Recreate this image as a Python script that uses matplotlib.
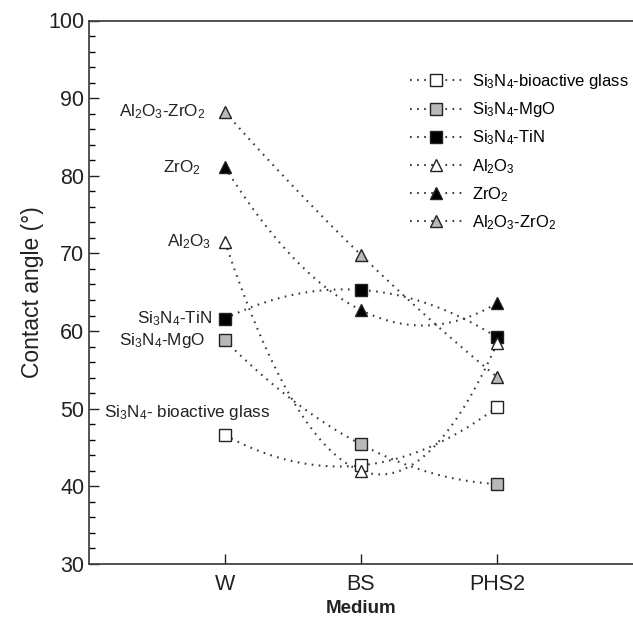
import matplotlib
matplotlib.use("Agg")
import matplotlib.pyplot as plt
import numpy as np
from matplotlib.ticker import MultipleLocator

plt.rcParams['font.family'] = ['Liberation Sans', 'DejaVu Sans']
plt.rcParams['mathtext.fontset'] = 'custom'
plt.rcParams['mathtext.rm'] = 'Liberation Sans'
plt.rcParams['mathtext.it'] = 'Liberation Sans'
plt.rcParams['mathtext.bf'] = 'Liberation Sans:bold'

media = ['W', 'BS', 'PHS2']

names = [r'Si$_3$N$_4$-bioactive glass', r'Si$_3$N$_4$-MgO', r'Si$_3$N$_4$-TiN',
         r'Al$_2$O$_3$', r'ZrO$_2$', r'Al$_2$O$_3$-ZrO$_2$']
side_labels = [r'Si$_3$N$_4$- bioactive glass', r'Si$_3$N$_4$-MgO', r'Si$_3$N$_4$-TiN',
               r'Al$_2$O$_3$', r'ZrO$_2$', r'Al$_2$O$_3$-ZrO$_2$']

bioactive = [46.6, 42.7, 50.2]
mgo = [58.8, 45.4, 40.3]
tin = [61.6, 65.3, 59.2]
al2o3 = [71.5, 42.0, 58.4]
zro2 = [81.1, 62.7, 63.6]
al2o3_zro2 = [88.2, 69.8, 54.1]
series = [bioactive, mgo, tin, al2o3, zro2, al2o3_zro2]

markers = ['s', 's', 's', '^', '^', '^']
faces = ['white', '#b8b8b8', 'black', 'white', 'black', '#b8b8b8']
# label offsets from the W point, in pixels
offsets = [(45, 23), (-20, 0), (-13, 0), (-14, 0), (-24, 0), (-19, 0)]

fig = plt.figure(figsize=(6.33, 6.2), dpi=100)
ax = fig.add_axes([89 / 633, 1 - 564 / 620, 1 - 89 / 633, (564 - 20.5) / 620])

x = np.arange(1, len(media) + 1)
xs = np.linspace(1, 3, 200)
for name, y, m, fc in zip(names, series, markers, faces):
    coef = np.polyfit(x, y, 2)
    ax.plot(xs, np.polyval(coef, xs), color='#3a3a3a', lw=1.5,
            linestyle=(0, (0.8, 2.6)), zorder=2)
    ax.plot(x, y, linestyle='none', marker=m, ms=9, mfc=fc, mec='#222222',
            mew=1.0, zorder=3)
    # legend proxy
    ax.plot([], [], color='#3a3a3a', lw=1.5, linestyle=(0, (0.8, 2.6)),
            marker=m, ms=8, mfc=fc, mec='#222222', mew=1.0, label=name)

for lab, y, (dx, dy) in zip(side_labels, series, offsets):
    ax.annotate(lab, xy=(1, y[0]), xytext=(dx * 0.72, dy * 0.72),
                textcoords='offset points', ha='right', va='center',
                fontsize=12.3, color='#222222')

ax.set_xlim(0, 4)
ax.set_ylim(30, 100)
ax.set_xticks(x)
ax.set_xticklabels(media)
ax.yaxis.set_major_locator(MultipleLocator(10))
ax.yaxis.set_minor_locator(MultipleLocator(2))
ax.tick_params(axis='both', which='major', direction='in', length=7,
               width=1.0, labelsize=15.5, colors='#222222')
ax.tick_params(axis='y', which='minor', direction='in', length=4, width=1.0)
ax.tick_params(axis='x', which='major', pad=7)
for s in ['left', 'bottom', 'top']:
    ax.spines[s].set_linewidth(1.3)
    ax.spines[s].set_color('#444444')
ax.spines['right'].set_visible(False)

ax.set_xlabel('Medium', fontsize=13.5, fontweight='bold', color='#222222',
              labelpad=4)
ax.set_ylabel('Contact angle (°)', fontsize=16.5, color='#222222', labelpad=3)

ax.legend(loc='upper left', bbox_to_anchor=(0.59, 0.905), frameon=False,
          fontsize=12, handlelength=3.1, handletextpad=0.6,
          labelspacing=0.56, borderpad=0, borderaxespad=0, numpoints=1)

fig.savefig('out.png', dpi=100)
